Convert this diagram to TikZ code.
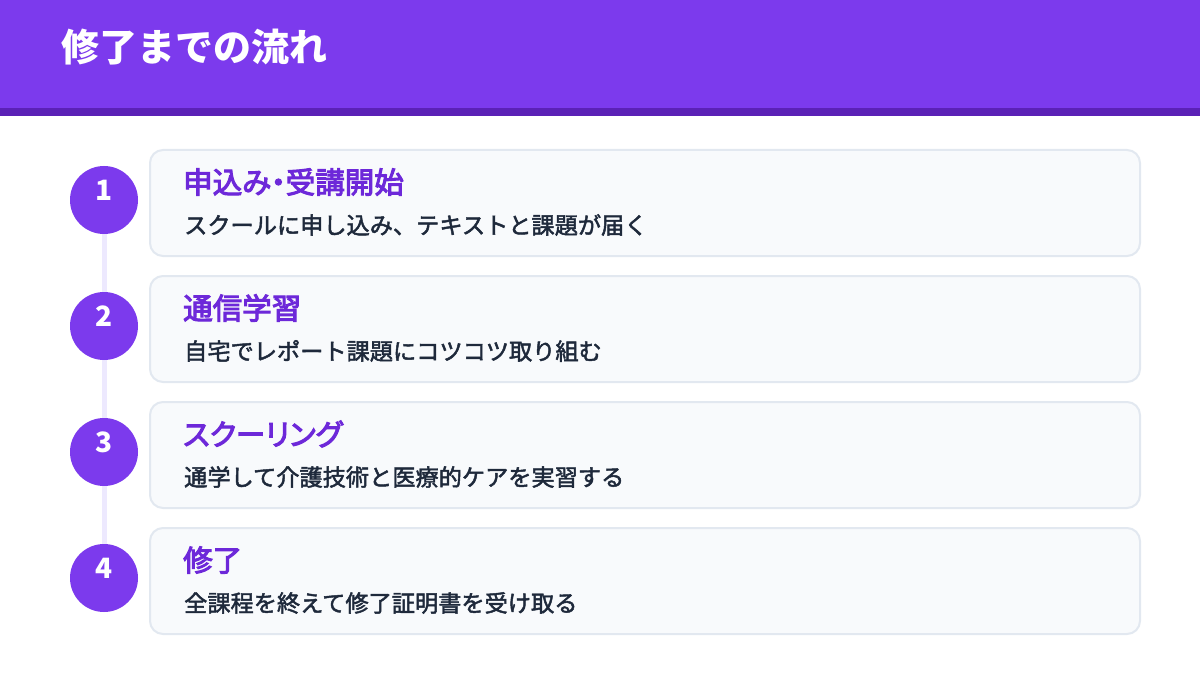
\documentclass[tikz,border=0pt]{standalone}
\usepackage{fontspec}
\newfontfamily\jp{Noto Sans CJK JP}
\newfontfamily\jpt[RawFeature=+palt, FakeBold=3.5]{Noto Sans CJK JP}
\newfontfamily\jpd[FakeBold=2]{Noto Sans CJK JP}
\definecolor{hdr}{HTML}{7C3AED}
\definecolor{hdrdark}{HTML}{5B21B6}
\definecolor{cardfill}{HTML}{F8FAFC}
\definecolor{cardline}{HTML}{E2E8F0}
\definecolor{ttl}{HTML}{6D28D9}
\definecolor{desc}{HTML}{1E293B}
\definecolor{track}{HTML}{EDE9FE}
\tikzset{
  card/.style={draw=cardline, line width=2pt, fill=cardfill, rounded corners=13pt},
  numcirc/.style={circle, fill=hdr, minimum size=68pt, inner sep=0pt},
  numtext/.style={text=white, font=\jp\bfseries\fontsize{28}{28}\selectfont, inner sep=0pt},
  cardtitle/.style={anchor=west, inner sep=0pt, text=ttl, font=\jpt\fontsize{29.5}{29.5}\selectfont},
  carddesc/.style={anchor=west, inner sep=0pt, text=desc, font=\jpd\fontsize{23.2}{23.2}\selectfont},
}
\begin{document}
\begin{tikzpicture}[x=1pt,y=-1pt]
\useasboundingbox (0,0) rectangle (1200,674);
\fill[white] (0,0) rectangle (1200,674);
\fill[hdr] (0,0) rectangle (1200,108);
\fill[hdrdark] (0,108) rectangle (1200,116);
\node[anchor=west, inner sep=0pt, text=white, font=\jp\bfseries\fontsize{38}{38}\selectfont] (title) at (61,47) {修了までの流れ};
% track
\coordinate (t1) at (104,200);
\coordinate (t4) at (104,578);
\draw[track, line width=5pt] (t1) -- (t4);
% cards
\foreach \i/\t/\d in {0/申込み・受講開始/スクールに申し込み、テキストと課題が届く,
                      1/通信学習/自宅でレポート課題にコツコツ取り組む,
                      2/スクーリング/通学して介護技術と医療的ケアを実習する,
                      3/修了/全課程を終えて修了証明書を受け取る}{
  \pgfmathsetmacro{\top}{150+126*\i}
  \draw[card] (150,\top) rectangle (1140,\top+106);
  \node[numcirc] (c\i) at (104,\top+50) {};
  \node[numtext] (n\i) at (104,\top+40) {\pgfmathparse{int(\i+1)}\pgfmathresult};
  \node[cardtitle] (ct\i) at (183,\top+32) {\t};
  \node[carddesc] (cd\i) at (184,\top+75) {\d};
}
\end{tikzpicture}
\end{document}
